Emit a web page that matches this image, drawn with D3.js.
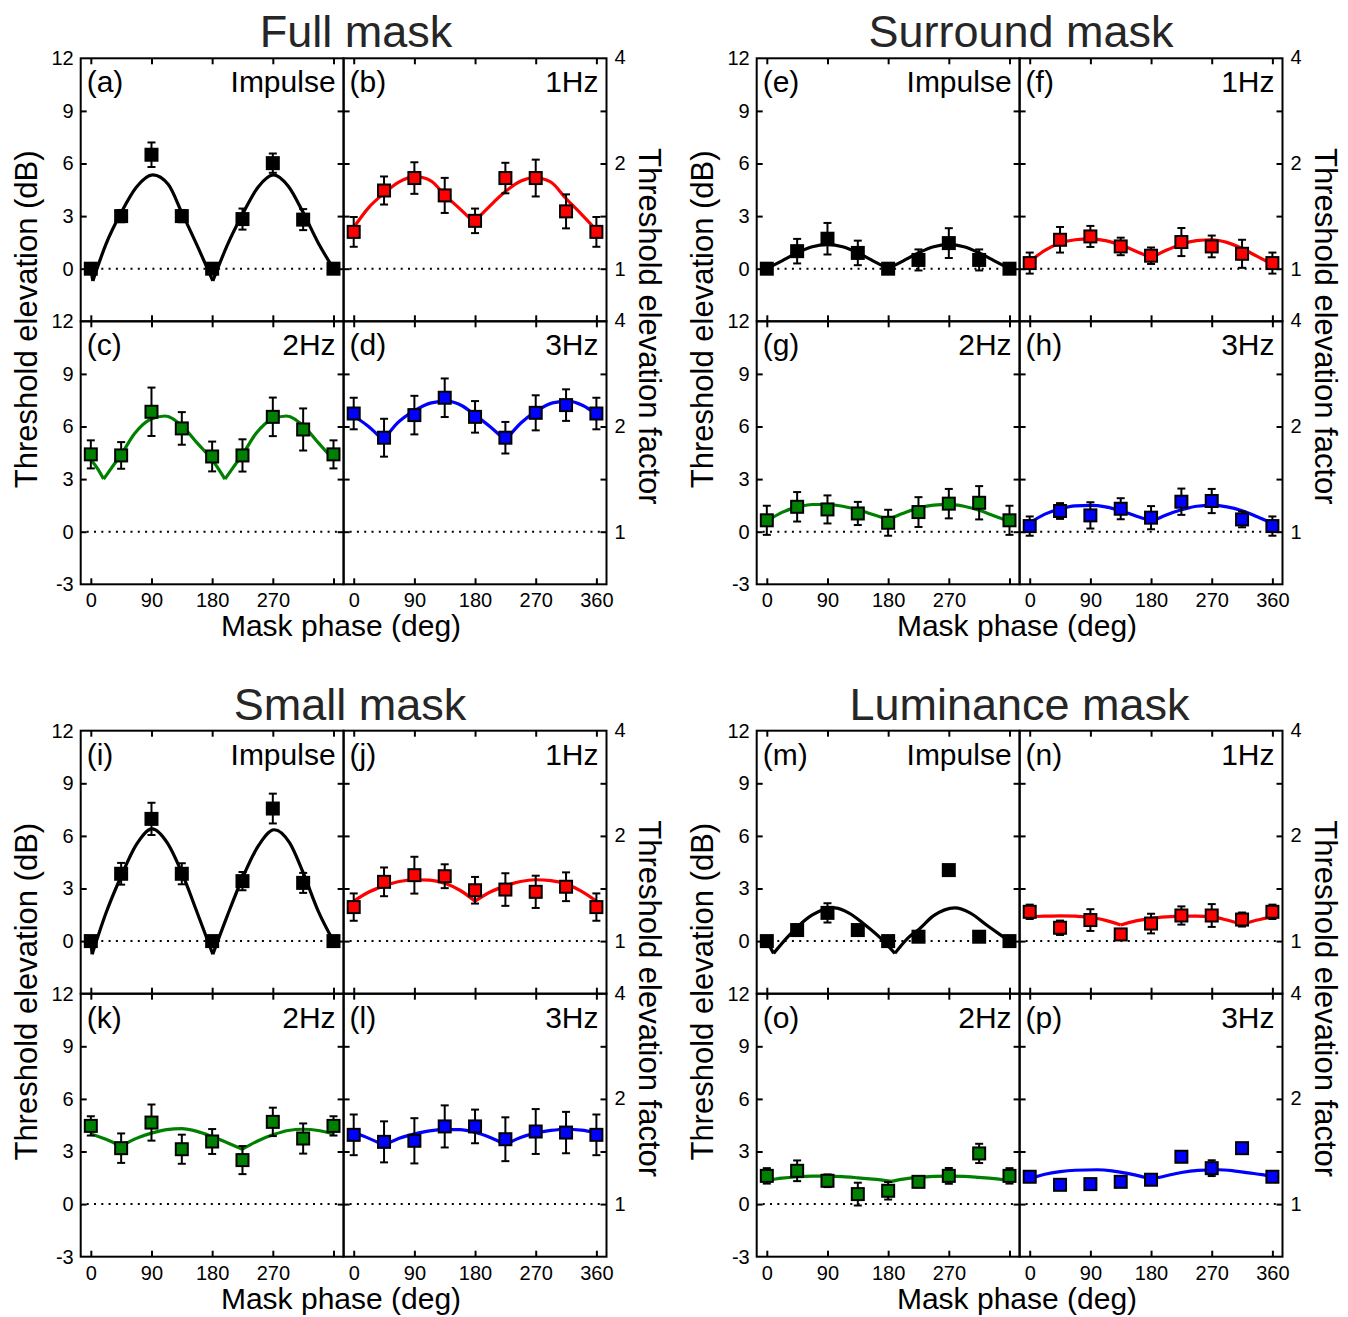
<!DOCTYPE html>
<html>
<head>
<meta charset="utf-8">
<script src="https://cdn.jsdelivr.net/npm/d3@7"></script>
<style>
  body { margin: 0; background: #fff; }
  text { font-family: "Liberation Sans", Arial, Helvetica, sans-serif; }
</style>
</head>
<body>
<svg id="chart" width="1348" height="1317"></svg>
<script>
// ---- data ---------------------------------------------------------------
const phases = [0, 45, 90, 135, 180, 225, 270, 315, 360];
const xTicks = [0, 90, 180, 270, 360];
const dbTicks = [0, 3, 6, 9];
const dbLabelsTop = [0, 3, 6, 9, 12];
const dbLabelsBottom = [-3, 0, 3, 6, 9, 12];
const factorTicks = [1, 2, 4];
const blockTitles = ["Full mask", "Surround mask", "Small mask", "Luminance mask"];
const conditions = ["Impulse", "1Hz", "2Hz", "3Hz"];
const panelLetters = [
  ["(a)", "(b)", "(c)", "(d)"],
  ["(e)", "(f)", "(g)", "(h)"],
  ["(i)", "(j)", "(k)", "(l)"],
  ["(m)", "(n)", "(o)", "(p)"]
];
const conditionColors = ["#000000", "#ff0000", "#008000", "#0000ff"];

// threshold elevation (dB), one row per condition, one value per phase
const fullMean = [
  [0, 3.0, 6.5, 3.0, 0, 2.83, 6.02, 2.8, 0],
  [2.1, 4.46, 5.17, 4.18, 2.73, 5.17, 5.17, 3.27, 2.1],
  [4.41, 4.35, 6.84, 5.89, 4.29, 4.35, 6.55, 5.83, 4.41],
  [6.74, 5.36, 6.65, 7.64, 6.55, 5.36, 6.78, 7.22, 6.74]
];
const fullErr = [
  [0, 0.35, 0.7, 0.35, 0, 0.6, 0.55, 0.6, 0],
  [0.85, 0.8, 0.9, 1.0, 0.7, 0.87, 1.05, 0.97, 0.85],
  [0.8, 0.76, 1.38, 0.93, 0.85, 0.92, 1.1, 1.2, 0.8],
  [0.9, 1.08, 1.1, 1.1, 0.9, 0.9, 1.0, 0.9, 0.9]
];
const surroundMean = [
  [0, 1.0, 1.71, 0.9, 0, 0.5, 1.46, 0.5, 0],
  [0.32, 1.65, 1.84, 1.27, 0.74, 1.52, 1.27, 0.85, 0.32],
  [0.65, 1.42, 1.27, 1.04, 0.51, 1.12, 1.6, 1.65, 0.65],
  [0.32, 1.18, 0.93, 1.31, 0.8, 1.71, 1.75, 0.7, 0.32]
];
const surroundErr = [
  [0, 0.7, 0.9, 0.7, 0, 0.6, 0.85, 0.6, 0],
  [0.6, 0.73, 0.6, 0.5, 0.47, 0.8, 0.62, 0.8, 0.6],
  [0.83, 0.84, 0.8, 0.66, 0.74, 0.85, 0.84, 0.95, 0.83],
  [0.55, 0.45, 0.75, 0.6, 0.66, 0.75, 0.69, 0.45, 0.55]
];
const smallMean = [
  [0, 3.84, 6.97, 3.84, 0, 3.42, 7.56, 3.32, 0],
  [1.94, 3.38, 3.76, 3.7, 2.9, 2.94, 2.81, 3.1, 1.94],
  [4.46, 3.19, 4.65, 3.13, 3.57, 2.51, 4.69, 3.74, 4.46],
  [3.95, 3.55, 3.61, 4.43, 4.43, 3.7, 4.14, 4.08, 3.95]
];
const smallErr = [
  [0, 0.62, 0.92, 0.6, 0, 0.52, 0.85, 0.57, 0],
  [0.78, 0.82, 1.05, 0.68, 0.76, 0.93, 0.92, 0.82, 0.78],
  [0.55, 0.84, 1.03, 0.83, 0.71, 0.8, 0.81, 0.86, 0.55],
  [1.16, 1.17, 1.29, 1.2, 0.96, 1.25, 1.28, 1.18, 1.16]
];
const luminanceMean = [
  [0, 0.63, 1.61, 0.63, 0, 0.25, 4.05, 0.25, 0],
  [1.67, 0.76, 1.2, 0.38, 1.0, 1.46, 1.46, 1.23, 1.67],
  [1.61, 1.9, 1.33, 0.57, 0.76, 1.27, 1.61, 2.89, 1.61],
  [1.56, 1.1, 1.14, 1.27, 1.39, 2.7, 2.05, 3.19, 1.56]
];
const luminanceErr = [
  [0, 0, 0.55, 0, 0, 0, 0, 0, 0],
  [0.41, 0.41, 0.62, 0.28, 0.56, 0.52, 0.65, 0.4, 0.41],
  [0.44, 0.59, 0.36, 0.65, 0.5, 0, 0.45, 0.55, 0.44],
  [0, 0, 0, 0, 0, 0, 0.45, 0, 0]
];

// model fits: each condition is a list of smooth pieces joined at cusps, [phase, dB]
const fullFit = [
  [[[0, 0], [3, -0.7]],
   [[3, -0.7], [22.5, 1.4], [45, 3.2], [67.5, 4.65], [92, 5.35], [115, 4.8], [135, 3.2], [158, 1.3], [181, -0.7]],
   [[181, -0.7], [202, 1.3], [225, 3.1], [248, 4.65], [271, 5.35], [293, 4.7], [315, 3.2], [337, 1.5], [360, 0]]],
  [[[0, 2.35], [22.5, 3.5], [45, 4.3], [67.5, 4.95], [92, 5.25], [115, 5.0], [135, 4.2], [158, 3.4], [178, 2.65]],
   [[178, 2.65], [200, 3.5], [225, 4.4], [248, 5.0], [268, 5.2], [292, 4.95], [315, 4.0], [338, 3.1], [360, 2.2]]],
  [[[0, 4.1], [10, 3.6], [19, 3.0]],
   [[19, 3.0], [30, 3.6], [45, 4.4], [65, 5.6], [88, 6.4], [110, 6.6], [135, 6.05], [158, 5.05], [180, 4.1], [199, 3.0]],
   [[199, 3.0], [210, 3.6], [225, 4.4], [245, 5.6], [268, 6.4], [290, 6.6], [315, 6.05], [338, 5.05], [360, 4.1]]],
  [[[0, 6.6], [22, 6.0], [44, 5.2]],
   [[44, 5.2], [65, 6.2], [90, 6.9], [115, 7.35], [138, 7.45], [160, 7.2], [180, 6.65], [202, 6.0], [225, 5.2]],
   [[225, 5.2], [248, 6.2], [270, 6.85], [295, 7.35], [318, 7.45], [340, 7.2], [360, 6.7]]]
];
const surroundFit = [
  [[[0, 0], [22.5, 0.45], [45, 0.9], [67.5, 1.25], [90, 1.37], [112.5, 1.25], [135, 0.9], [157.5, 0.45], [180, 0]],
   [[180, 0], [202.5, 0.45], [225, 0.9], [247.5, 1.25], [270, 1.37], [292.5, 1.25], [315, 0.9], [337.5, 0.45], [360, 0]]],
  [[[0, 0.4], [22.5, 1.05], [45, 1.45], [67.5, 1.65], [90, 1.7], [112.5, 1.6], [135, 1.35], [157.5, 1.0], [180, 0.62]],
   [[180, 0.62], [202.5, 1.05], [225, 1.4], [247.5, 1.6], [270, 1.65], [292.5, 1.5], [315, 1.15], [337.5, 0.7], [360, 0.25]]],
  [[[0, 0.6], [22.5, 1.1], [45, 1.4], [67.5, 1.55], [90, 1.55], [112.5, 1.45], [135, 1.25], [157.5, 0.98], [180, 0.7]],
   [[180, 0.7], [202.5, 1.05], [225, 1.35], [247.5, 1.52], [270, 1.56], [292.5, 1.45], [315, 1.22], [337.5, 0.9], [360, 0.6]]],
  [[[0, 0.5], [22.5, 1.0], [45, 1.3], [67.5, 1.47], [90, 1.5], [112.5, 1.42], [135, 1.2], [157.5, 0.9], [182, 0.6]],
   [[182, 0.6], [202.5, 0.95], [225, 1.25], [247.5, 1.45], [270, 1.5], [292.5, 1.42], [315, 1.2], [337.5, 0.85], [360, 0.47]]]
];
const smallFit = [
  [[[0, 0], [2, -0.75]],
   [[2, -0.75], [22.5, 1.6], [45, 3.7], [67.5, 5.5], [91, 6.4], [113.5, 5.6], [135, 3.9], [158, 1.6], [181, -0.75]],
   [[181, -0.75], [203, 1.5], [225, 3.6], [248, 5.4], [272, 6.35], [295, 5.6], [315, 3.9], [337.5, 1.7], [360, 0]]],
  [[[0, 2.28], [22.5, 2.8], [45, 3.15], [67.5, 3.4], [90, 3.5], [112.5, 3.48], [135, 3.3], [157.5, 2.9], [180, 2.28]],
   [[180, 2.28], [202.5, 2.8], [225, 3.15], [247.5, 3.4], [270, 3.5], [292.5, 3.45], [315, 3.25], [337.5, 2.85], [360, 2.28]]],
  [[[0, 4.0], [22.5, 3.7], [45, 3.3]],
   [[45, 3.3], [67.5, 3.75], [90, 4.05], [112.5, 4.25], [135, 4.3], [157.5, 4.15], [180, 3.85], [202.5, 3.5], [225, 3.13]],
   [[225, 3.13], [247.5, 3.6], [270, 3.95], [292.5, 4.2], [315, 4.27], [337.5, 4.2], [360, 4.0]]],
  [[[0, 4.08], [22.5, 3.75], [45, 3.35]],
   [[45, 3.35], [67.5, 3.75], [90, 4.0], [112.5, 4.18], [135, 4.25], [157.5, 4.25], [180, 4.1], [202.5, 3.8], [225, 3.4]],
   [[225, 3.4], [247.5, 3.8], [270, 4.05], [292.5, 4.2], [315, 4.27], [337.5, 4.22], [360, 4.08]]]
];
const luminanceFit = [
  [[[0, 0], [10, -0.7]],
   [[10, -0.7], [30, 0.2], [45, 0.8], [67.5, 1.5], [100, 1.9], [122, 1.6], [145, 0.95], [168, 0.2], [190, -0.7]],
   [[190, -0.7], [210, 0.2], [225, 0.65], [247.5, 1.45], [279, 1.9], [302, 1.6], [325, 0.95], [345, 0.4], [360, 0]]],
  [[[0, 1.39], [22.5, 1.42], [45, 1.44], [67.5, 1.42], [90, 1.36], [112.5, 1.18], [135, 0.92]],
   [[135, 0.92], [157.5, 1.15], [180, 1.3], [202.5, 1.38], [225, 1.42], [247.5, 1.42], [270, 1.38], [292.5, 1.2], [315, 0.95]],
   [[315, 0.95], [337.5, 1.2], [360, 1.39]]],
  [[[0, 1.35], [22.5, 1.48], [45, 1.56], [67.5, 1.6], [90, 1.6], [112.5, 1.57], [135, 1.5], [157.5, 1.42], [185, 1.3]],
   [[185, 1.3], [202.5, 1.42], [225, 1.52], [247.5, 1.58], [270, 1.6], [292.5, 1.58], [315, 1.52], [337.5, 1.45], [360, 1.35]]],
  [[[0, 1.45], [22.5, 1.7], [45, 1.85], [67.5, 1.93], [100, 1.96], [122, 1.9], [145, 1.75], [165, 1.58], [180, 1.42]],
   [[180, 1.42], [202.5, 1.62], [225, 1.8], [250, 1.92], [280, 1.96], [302, 1.9], [325, 1.78], [345, 1.68], [360, 1.58]]]
];

const blockMeans = [fullMean, surroundMean, smallMean, luminanceMean];
const blockErrs = [fullErr, surroundErr, smallErr, luminanceErr];
const blockFits = [fullFit, surroundFit, smallFit, luminanceFit];

// ---- layout -------------------------------------------------------------
const PW = 262.9, PH = 263;
const blockOrigin = [[80.7, 58.3], [756.7, 58.3], [80.7, 730.7], [756.7, 730.7]];
const titlePos = [[356, 47], [1021, 47], [350, 720], [1019.5, 720]];
const FONT = '"Liberation Sans", Arial, Helvetica, sans-serif';

const svg = d3.select("#chart");
svg.append("rect").attr("width", 1348).attr("height", 1317).attr("fill", "#fff");

const x = d3.scaleLinear().domain([-15, 375]).range([0, PW]);
const y = d3.scaleLinear().domain([-3, 12]).range([PH, 0]);
const yFactor = d3.scaleLog()
  .domain([Math.pow(10, -3 / 20), Math.pow(10, 12 / 20)])
  .range([PH, 0]);

const fitLine = d3.line()
  .x(d => x(d[0]))
  .y(d => y(d[1]))
  .curve(d3.curveMonotoneX);

const plain = d => String(d);   // hyphen-minus, as in the printed axes

function styleAxis(g, size) {
  g.attr("font-family", FONT).attr("font-size", size);
  g.select(".domain").remove();
  g.selectAll(".tick line").attr("stroke", "#000").attr("stroke-width", 2);
  g.selectAll(".tick text").attr("fill", "#000");
}

blockOrigin.forEach(([ox, oy], b) => {
  const block = svg.append("g");

  // block title
  block.append("text")
    .attr("x", titlePos[b][0]).attr("y", titlePos[b][1])
    .attr("text-anchor", "middle")
    .attr("font-size", 45)
    .attr("fill", "#262626")
    .text(blockTitles[b]);

  for (let p = 0; p < 4; p++) {
    const col = p % 2, row = Math.floor(p / 2);
    const g = block.append("g")
      .attr("transform", `translate(${ox + col * PW},${oy + row * PH})`);
    const color = conditionColors[p];
    const mean = blockMeans[b][p];
    const err = blockErrs[b][p];
    const pts = phases.map((ph, i) => ({ ph, m: mean[i], e: err[i] }));

    // zero reference
    g.append("line")
      .attr("x1", 6).attr("x2", PW - 2)
      .attr("y1", y(0)).attr("y2", y(0))
      .attr("stroke", "#000").attr("stroke-width", 2)
      .attr("stroke-dasharray", "2 5.3");

    // fitted model
    g.selectAll("path.fit")
      .data(blockFits[b][p])
      .join("path")
      .attr("class", "fit")
      .attr("d", fitLine)
      .attr("fill", "none")
      .attr("stroke", color)
      .attr("stroke-width", 3.2)
      .attr("stroke-linejoin", "round");

    // error bars
    const eb = g.selectAll("g.err")
      .data(pts.filter(d => d.e > 0))
      .join("g").attr("class", "err")
      .attr("stroke", "#000").attr("stroke-width", 2);
    eb.append("line")
      .attr("x1", d => x(d.ph)).attr("x2", d => x(d.ph))
      .attr("y1", d => y(d.m - d.e)).attr("y2", d => y(d.m + d.e));
    eb.append("line")
      .attr("x1", d => x(d.ph) - 4).attr("x2", d => x(d.ph) + 4)
      .attr("y1", d => y(d.m + d.e)).attr("y2", d => y(d.m + d.e));
    eb.append("line")
      .attr("x1", d => x(d.ph) - 4).attr("x2", d => x(d.ph) + 4)
      .attr("y1", d => y(d.m - d.e)).attr("y2", d => y(d.m - d.e));

    // data markers
    g.selectAll("rect.pt")
      .data(pts)
      .join("rect").attr("class", "pt")
      .attr("x", d => x(d.ph) - 6).attr("y", d => y(d.m) - 6)
      .attr("width", 12).attr("height", 12)
      .attr("fill", color)
      .attr("stroke", "#000").attr("stroke-width", 2);

    // frame
    g.append("rect")
      .attr("width", PW).attr("height", PH)
      .attr("fill", "none").attr("stroke", "#000").attr("stroke-width", 2);

    // x ticks (inward), labels on the bottom row
    const xb = d3.axisBottom(x).tickValues(xTicks).tickSize(-6).tickPadding(9)
      .tickFormat(d => (row === 1 && (col === 1 || d !== 360)) ? plain(d) : "");
    g.append("g").attr("transform", `translate(0,${PH})`).call(xb).call(s => styleAxis(s, 20));
    g.append("g").call(d3.axisTop(x).tickValues(xTicks).tickSize(-6).tickFormat(""))
      .call(s => styleAxis(s, 20));

    // y ticks (inward)
    g.append("g").call(d3.axisLeft(y).tickValues(dbTicks).tickSize(-6).tickFormat(""))
      .call(s => styleAxis(s, 20));
    g.append("g").attr("transform", `translate(${PW},0)`)
      .call(d3.axisRight(y).tickValues(dbTicks).tickSize(-6).tickFormat(""))
      .call(s => styleAxis(s, 20));

    if (col === 0) {
      g.append("g")
        .call(d3.axisLeft(y).tickValues(row === 0 ? dbLabelsTop : dbLabelsBottom)
          .tickSize(0).tickPadding(7).tickFormat(plain))
        .call(s => styleAxis(s, 20));
    } else {
      g.append("g").attr("transform", `translate(${PW},0)`)
        .call(d3.axisRight(yFactor).tickValues(factorTicks).tickSize(0).tickPadding(8).tickFormat(plain))
        .call(s => styleAxis(s, 20));
    }

    // panel captions
    g.append("text")
      .attr("x", 6).attr("y", 34)
      .attr("font-size", 30)
      .text(panelLetters[b][p]);
    g.append("text")
      .attr("x", PW - 8).attr("y", 34)
      .attr("text-anchor", "end")
      .attr("font-size", 30)
      .text(conditions[p]);
  }

  // axis titles
  block.append("text")
    .attr("transform", `translate(${ox - 44},${oy + PH - 2}) rotate(-90)`)
    .attr("text-anchor", "middle")
    .attr("font-size", 31)
    .text("Threshold elevation (dB)");
  block.append("text")
    .attr("transform", `translate(${ox + 2 * PW + 32.5},${oy + PH + 5}) rotate(90)`)
    .attr("text-anchor", "middle")
    .attr("font-size", 31)
    .text("Threshold elevation factor");
  block.append("text")
    .attr("x", ox + 260.3).attr("y", oy + 2 * PH + 52)
    .attr("text-anchor", "middle")
    .attr("font-size", 30)
    .text("Mask phase (deg)");
});
</script>
</body>
</html>
